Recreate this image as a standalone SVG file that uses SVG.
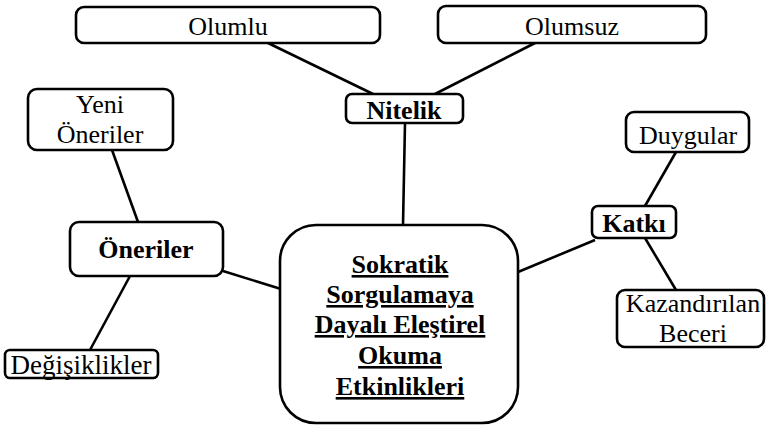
<svg xmlns="http://www.w3.org/2000/svg" width="767" height="429" viewBox="0 0 767 429">
  <style>
    .box { fill: #fff; stroke: #000; stroke-width: 2.6; }
    .link { stroke: #000; stroke-width: 2.6; fill: none; }
    svg text { font-family: 'Times New Roman', 'Liberation Serif', serif !important; font-size: 26px; fill: #000; text-anchor: middle; }
    svg text.b { font-weight: bold; }
    svg text.u { text-decoration: underline; }
  </style>
  <rect width="767" height="429" fill="#fff"/>
  <!-- connectors -->
  <g id="connectors">
    <line class="link" x1="268" y1="43" x2="373" y2="94"/>
    <line class="link" x1="535" y1="43" x2="435" y2="94"/>
    <line class="link" x1="405" y1="123" x2="403" y2="225"/>
    <line class="link" x1="112" y1="150" x2="138" y2="222"/>
    <line class="link" x1="130" y1="276" x2="90" y2="350"/>
    <line class="link" x1="223" y1="271" x2="281" y2="289"/>
    <line class="link" x1="595" y1="240" x2="518" y2="272"/>
    <line class="link" x1="676" y1="152" x2="645" y2="206"/>
    <line class="link" x1="645" y1="238" x2="676" y2="290"/>
  </g>
  <g id="olumlu">
    <rect class="box" x="76" y="7" width="304" height="36" rx="8"/>
    <text x="228" y="35" style="font-family:'Times New Roman',serif">Olumlu</text>
  </g>
  <g id="olumsuz">
    <rect class="box" x="438" y="6" width="268" height="37" rx="8"/>
    <text x="572" y="35" style="font-family:'Times New Roman',serif">Olumsuz</text>
  </g>
  <g id="nitelik">
    <rect class="box" x="346" y="94" width="117" height="29" rx="6"/>
    <text class="b" x="404" y="119" style="font-family:'Times New Roman',serif">Nitelik</text>
  </g>
  <g id="yeni-oneriler">
    <rect class="box" x="28" y="89" width="145" height="61" rx="9"/>
    <text x="100" y="113" style="font-family:'Times New Roman',serif">Yeni</text>
    <text x="100" y="143" style="font-family:'Times New Roman',serif">Öneriler</text>
  </g>
  <g id="oneriler">
    <rect class="box" x="70" y="222" width="153" height="54" rx="9"/>
    <text class="b" x="146" y="258" style="font-family:'Times New Roman',serif">Öneriler</text>
  </g>
  <g id="degisiklikler">
    <rect class="box" x="5" y="350" width="153" height="28" rx="5"/>
    <text x="81" y="374" style="font-family:'Times New Roman',serif;font-size:27px">Değişiklikler</text>
  </g>
  <g id="merkez">
    <rect class="box" x="280" y="225" width="238" height="198" rx="36"/>
    <text class="b u" x="400" y="273" style="font-family:'Times New Roman',serif">Sokratik</text>
    <text class="b u" x="400" y="303" style="font-family:'Times New Roman',serif">Sorgulamaya</text>
    <text class="b u" x="400" y="333" style="font-family:'Times New Roman',serif">Dayalı Eleştirel</text>
    <text class="b u" x="400" y="364" style="font-family:'Times New Roman',serif">Okuma</text>
    <text class="b u" x="400" y="395" style="font-family:'Times New Roman',serif">Etkinlikleri</text>
  </g>
  <g id="katki">
    <rect class="box" x="592" y="206" width="84" height="32" rx="6"/>
    <text class="b" x="634" y="232" style="font-family:'Times New Roman',serif">Katkı</text>
  </g>
  <g id="duygular">
    <rect class="box" x="626" y="112" width="123" height="40" rx="8"/>
    <text x="688" y="144" style="font-family:'Times New Roman',serif">Duygular</text>
  </g>
  <g id="kazandirilan-beceri">
    <rect class="box" x="617" y="290" width="147" height="57" rx="8"/>
    <text x="693" y="312" style="font-family:'Times New Roman',serif">Kazandırılan</text>
    <text x="693" y="342" style="font-family:'Times New Roman',serif">Beceri</text>
  </g>
</svg>
